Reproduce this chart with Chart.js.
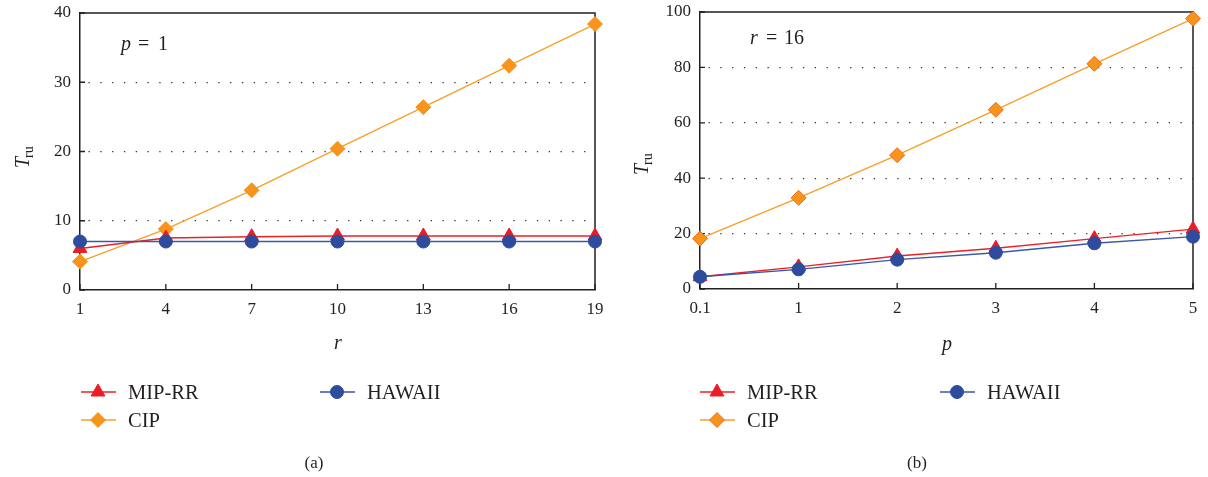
<!DOCTYPE html>
<html lang="en">
<head>
    <meta charset="UTF-8">
    <title>T_ru vs r and p</title>
    <script src="https://cdn.jsdelivr.net/npm/chart.js"></script>
    <style>
        body { margin: 0; background: #fff; }
        .wrap { position: relative; width: 1208px; height: 477px; }
        .panel { position: absolute; top: 0; width: 604px; height: 477px; }
    </style>
</head>
<body>
    <div class="wrap">
        <div class="panel" style="left:0"><canvas id="chartA" width="604" height="477"></canvas></div>
        <div class="panel" style="left:604px"><canvas id="chartB" width="604" height="477"></canvas></div>
    </div>

    <script>
        // panel (a): p = 1, varying r
        var rLabels = ['1', '4', '7', '10', '13', '16', '19'];
        var mipA = [6.0, 7.5, 7.7, 7.8, 7.8, 7.8, 7.8];
        var hawaiiA = [7.0, 7.0, 7.0, 7.0, 7.0, 7.0, 7.0];
        var cipA = [4.1, 8.8, 14.4, 20.4, 26.4, 32.4, 38.4];

        // panel (b): r = 16, varying p
        var pLabels = ['0.1', '1', '2', '3', '4', '5'];
        var mipB = [4.4, 8.0, 11.9, 14.7, 18.2, 21.6];
        var hawaiiB = [4.4, 7.1, 10.6, 13.1, 16.5, 18.9];
        var cipB = [18.2, 32.9, 48.3, 64.7, 81.3, 97.6];

        var INK = '#231f20';
        var SERIF = '"Liberation Serif", "DejaVu Serif", serif';

        function marker(ctx, style, x, y, r, fill, stroke) {
            ctx.save();
            ctx.fillStyle = fill;
            ctx.strokeStyle = stroke;
            ctx.lineWidth = 1;
            ctx.beginPath();
            if (style === 'triangle') {
                ctx.moveTo(x, y - r);
                ctx.lineTo(x + r * 0.866, y + r * 0.5);
                ctx.lineTo(x - r * 0.866, y + r * 0.5);
                ctx.closePath();
            } else if (style === 'rectRot') {
                ctx.moveTo(x, y - r);
                ctx.lineTo(x + r, y);
                ctx.lineTo(x, y + r);
                ctx.lineTo(x - r, y);
                ctx.closePath();
            } else {
                ctx.arc(x, y, r, 0, Math.PI * 2);
            }
            ctx.fill();
            ctx.stroke();
            ctx.restore();
        }

        // frame, inward ticks, labels and legend
        var decor = {
            id: 'decor',
            beforeDatasetsDraw: function(chart, args, o) {
                var ctx = chart.ctx, a = chart.chartArea;
                var xs = chart.scales.x, ys = chart.scales.y;
                ctx.save();
                ctx.strokeStyle = INK;
                ctx.lineWidth = 1.5;
                ctx.beginPath();
                ctx.moveTo(a.left, a.top);
                ctx.lineTo(a.right, a.top);
                ctx.lineTo(a.right, a.bottom);
                ctx.stroke();
                ctx.lineWidth = 1.3;
                ctx.beginPath();
                xs.ticks.forEach(function(t, i) {
                    var px = xs.getPixelForTick(i);
                    ctx.moveTo(px, a.bottom);
                    ctx.lineTo(px, a.bottom - 6);
                });
                ys.ticks.forEach(function(t, i) {
                    var py = ys.getPixelForTick(i);
                    ctx.moveTo(a.left, py);
                    ctx.lineTo(a.left + 5, py);
                });
                ctx.stroke();
                ctx.restore();
            },
            afterDraw: function(chart, args, o) {
                var ctx = chart.ctx;
                ctx.save();
                ctx.fillStyle = INK;
                ctx.textBaseline = 'alphabetic';

                // note, e.g. "p = 1"
                ctx.textAlign = 'left';
                ctx.font = 'italic 20px ' + SERIF;
                ctx.fillText(o.noteVar, o.noteX, o.noteY);
                ctx.font = '20px ' + SERIF;
                ctx.fillText('=', o.noteX + o.noteGap[0], o.noteY);
                ctx.fillText(o.noteVal, o.noteX + o.noteGap[1], o.noteY);

                // x title
                ctx.font = 'italic 20px ' + SERIF;
                ctx.textAlign = 'center';
                ctx.fillText(o.xTitle, o.xTitleX, o.xTitleY);

                // y title T_ru
                ctx.save();
                ctx.translate(o.yTitleX, o.yTitleY);
                ctx.rotate(-Math.PI / 2);
                ctx.textAlign = 'left';
                ctx.font = 'italic 20px ' + SERIF;
                ctx.fillText('T', 0, 0);
                var tw = ctx.measureText('T').width;
                ctx.font = '14px ' + SERIF;
                ctx.fillText('ru', tw - 1, 4);
                ctx.restore();

                // legend
                var ds = chart.data.datasets;
                o.legend.forEach(function(it) {
                    var d = ds[it.index];
                    ctx.save();
                    ctx.strokeStyle = d.borderColor;
                    ctx.lineWidth = 1.4;
                    ctx.beginPath();
                    ctx.moveTo(it.x, it.y);
                    ctx.lineTo(it.x + 35, it.y);
                    ctx.stroke();
                    ctx.restore();
                    marker(ctx, d.pointStyle, it.x + 17, it.y, d.pointRadius, d.pointBackgroundColor, d.pointBorderColor);
                    ctx.fillStyle = INK;
                    ctx.textAlign = 'left';
                    ctx.font = '20.5px ' + SERIF;
                    ctx.fillText(d.label, it.x + 47, it.y + 7);
                });

                // caption
                ctx.textAlign = 'center';
                ctx.font = '17px ' + SERIF;
                ctx.fillText(o.caption, o.captionX, o.captionY);
                ctx.restore();
            }
        };

        function makeDatasets(mip, hawaii, cip, cipEdge) {
            return [
                {
                    label: 'HAWAII', data: hawaii,
                    borderColor: '#3b57a6', borderWidth: 1.4,
                    pointStyle: 'circle', pointRadius: 6.5,
                    pointBackgroundColor: '#2e4c9e', pointBorderColor: '#2e4c9e', pointBorderWidth: 1
                },
                {
                    label: 'MIP-RR', data: mip,
                    borderColor: '#ed2028', borderWidth: 1.4,
                    pointStyle: 'triangle', pointRadius: 8,
                    pointBackgroundColor: '#ed1c24', pointBorderColor: '#ed1c24', pointBorderWidth: 1
                },
                {
                    label: 'CIP', data: cip,
                    borderColor: '#f7a02a', borderWidth: 1.4,
                    pointStyle: 'rectRot', pointRadius: 7.5,
                    pointBackgroundColor: '#f7941d', pointBorderColor: cipEdge, pointBorderWidth: 1
                }
            ];
        }

        function makeChart(id, labels, datasets, yMax, yStep, yWidth, pad, xHeight, deco) {
            return new Chart(document.getElementById(id), {
                type: 'line',
                data: { labels: labels, datasets: datasets },
                plugins: [decor],
                options: {
                    responsive: false,
                    animation: false,
                    events: [],
                    layout: { padding: pad },
                    plugins: {
                        legend: { display: false },
                        tooltip: { enabled: false },
                        decor: deco
                    },
                    scales: {
                        x: {
                            type: 'category',
                            offset: false,
                            afterFit: function(s) {
                                s.height = xHeight;
                                s.paddingLeft = 0;
                                s.paddingRight = 0;
                            },
                            grid: { display: false, drawTicks: false },
                            border: { display: true, color: INK, width: 1.5 },
                            ticks: { color: INK, padding: 9, maxRotation: 0, font: { family: SERIF, size: 17 } }
                        },
                        y: {
                            min: 0, max: yMax,
                            afterFit: function(s) {
                                s.width = yWidth;
                                s.paddingTop = 0;
                                s.paddingBottom = 0;
                            },
                            grid: {
                                drawTicks: false,
                                lineWidth: 1.3,
                                color: function(c) {
                                    var v = c.tick ? c.tick.value : 0;
                                    return (v === 0 || v === yMax) ? 'rgba(0,0,0,0)' : '#333';
                                }
                            },
                            border: { display: true, color: INK, width: 1.5, dash: [1.3, 10.5], dashOffset: -8 },
                            ticks: { color: INK, padding: 9, stepSize: yStep, font: { family: SERIF, size: 17 } }
                        }
                    }
                }
            });
        }

        makeChart('chartA', rLabels, makeDatasets(mipA, hawaiiA, cipA, '#f7941d'), 40, 10, 80,
            { top: 13, right: 8, left: 0, bottom: 0 }, 187,
            {
                noteVar: 'p', noteVal: '1', noteX: 121, noteY: 50, noteGap: [17, 37],
                xTitle: 'r', xTitleX: 338, xTitleY: 349,
                yTitleX: 29, yTitleY: 168,
                caption: '(a)', captionX: 314, captionY: 468,
                legend: [
                    { index: 1, x: 81, y: 392 },
                    { index: 0, x: 320, y: 392 },
                    { index: 2, x: 81, y: 420 }
                ]
            });

        makeChart('chartB', pLabels, makeDatasets(mipB, hawaiiB, cipB, '#f26b22'), 100, 20, 96,
            { top: 12, right: 15, left: 0, bottom: 0 }, 188,
            {
                noteVar: 'r', noteVal: '16', noteX: 146, noteY: 44, noteGap: [16, 34],
                xTitle: 'p', xTitleX: 343, xTitleY: 350,
                yTitleX: 44, yTitleY: 175,
                caption: '(b)', captionX: 313, captionY: 468,
                legend: [
                    { index: 1, x: 96, y: 392 },
                    { index: 0, x: 336, y: 392 },
                    { index: 2, x: 96, y: 420 }
                ]
            });
    </script>
</body>
</html>
